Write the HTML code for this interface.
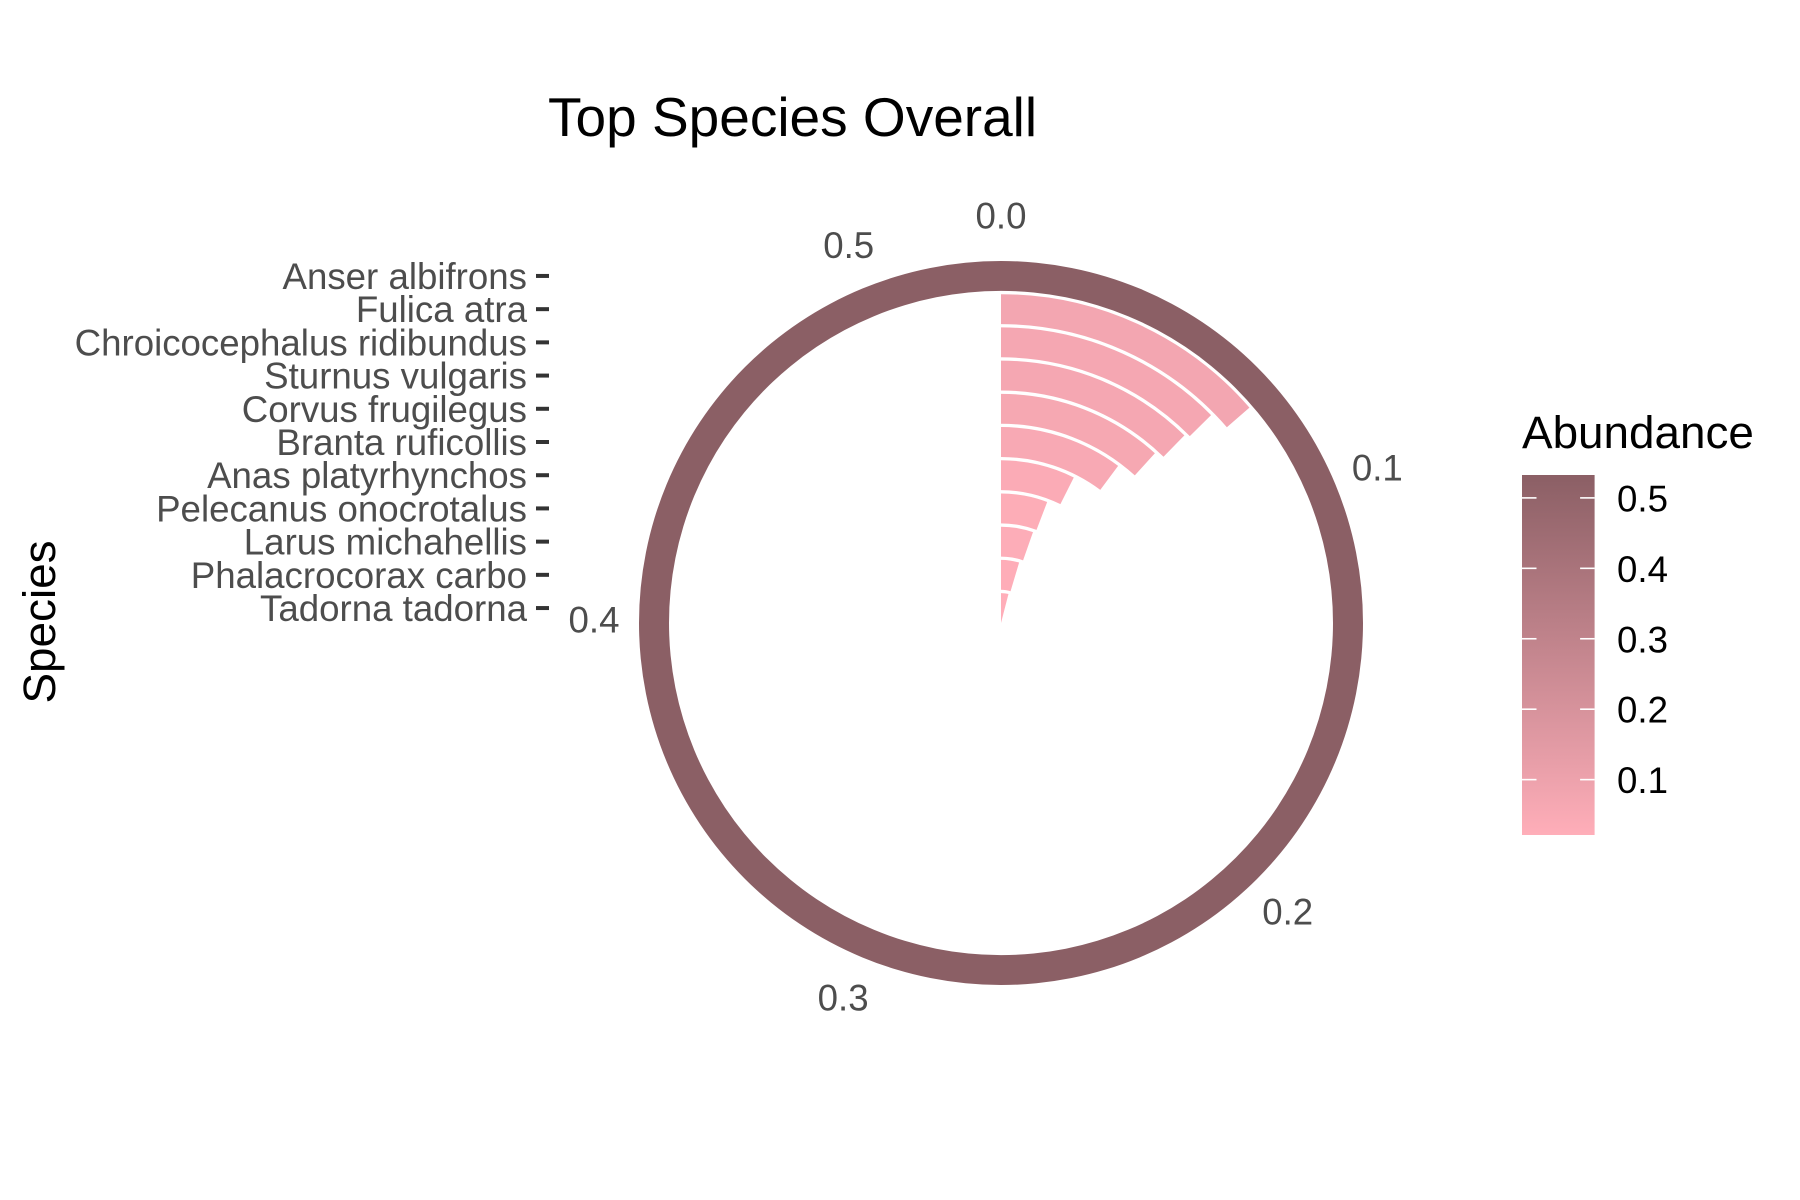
<!DOCTYPE html>
<html lang="en">
<head>
<meta charset="utf-8">
<title>Top Species Overall</title>
<style>
html,body{margin:0;padding:0;background:#fff;width:1800px;height:1200px;overflow:hidden}
svg{display:block}
text{font-family:"Liberation Sans",Arial,sans-serif}
</style>
</head>
<body>
<svg id="chart" xmlns="http://www.w3.org/2000/svg" width="1800" height="1200" viewBox="0 0 1800 1200">
  <rect width="1800" height="1200" fill="#ffffff"/>
  <text x="548" y="136" font-size="55" fill="#000000">Top Species Overall</text>
  <text transform="translate(55,622) rotate(-90)" text-anchor="middle" font-size="45.83" fill="#000000">Species</text>
  <text x="1522" y="448" font-size="45.83" fill="#000000">Abundance</text>
  <defs>
    <linearGradient id="legend-gradient" x1="0" y1="1" x2="0" y2="0">
      <stop id="legend-stop-low" offset="0"/>
      <stop id="legend-stop-high" offset="1"/>
    </linearGradient>
  </defs>
  <g id="y-axis"></g>
  <g id="theta-axis"></g>
  <g id="bars"></g>
  <g id="legend"></g>
</svg>
<script>
const species = ["Tadorna tadorna","Phalacrocorax carbo","Larus michahellis","Pelecanus onocrotalus","Anas platyrhynchos","Branta ruficollis","Corvus frugilegus","Sturnus vulgaris","Chroicocephalus ridibundus","Fulica atra","Anser albifrons"];
const abundance = [0.0214,0.0247,0.0287,0.0309,0.0393,0.0543,0.0624,0.0656,0.067,0.0726,0.5325];
const thetaTicks = [0.0,0.1,0.2,0.3,0.4,0.5];
const legendTicks = [0.1,0.2,0.3,0.4,0.5];

const NS = "http://www.w3.org/2000/svg";
const cx = 1001, cy = 623, outerR = 362, labelR = 407;
const maxV = Math.max.apply(null, abundance);
const minV = Math.min.apply(null, abundance);
const rUnit = outerR / (species.length - 0.1);
const lowC = [255,174,185], highC = [139,95,101];

function thetaScale(v){ return v / maxV * 2 * Math.PI; }
function rScale(pos){ return (pos - 0.55) * rUnit; }
function polar(r, a){ return [cx + r * Math.sin(a), cy - r * Math.cos(a)]; }
function colourScale(v){
  const t = (v - minV) / (maxV - minV);
  const c = lowC.map(function(l, i){ return Math.round(l + (highC[i] - l) * t); });
  return "rgb(" + c.join(",") + ")";
}
function sectorPath(r0, r1, a){
  const m = a / 2;
  const p0 = polar(r1, 0), p1 = polar(r1, m), p2 = polar(r1, a);
  const p3 = polar(r0, a), p4 = polar(r0, m), p5 = polar(r0, 0);
  return "M" + p0 + "A" + r1 + " " + r1 + " 0 0 1 " + p1 + "A" + r1 + " " + r1 + " 0 0 1 " + p2 +
         "L" + p3 + "A" + r0 + " " + r0 + " 0 0 0 " + p4 + "A" + r0 + " " + r0 + " 0 0 0 " + p5 + "Z";
}
function make(tag, attrs, parent, txt){
  const el = document.createElementNS(NS, tag);
  Object.keys(attrs).forEach(function(k){ el.setAttribute(k, attrs[k]); });
  if (txt !== undefined) el.textContent = txt;
  parent.appendChild(el);
  return el;
}

const barsG = document.getElementById("bars");
const yAxisG = document.getElementById("y-axis");
species.forEach(function(name, i){
  const pos = i + 1;
  const bar = make("path", {
    d: sectorPath(Math.max(rScale(pos - 0.45), 0), rScale(pos + 0.45), thetaScale(abundance[i])),
    fill: colourScale(abundance[i])
  }, barsG);
  
  

  const yy = cy - rScale(pos);
  const tick = make("line", {x1: 536, x2: 549, y1: yy, y2: yy, stroke: "#333333", "stroke-width": 4}, yAxisG);
  
  

  const lab = make("text", {x: 527, y: yy + 13, "text-anchor": "end", "font-size": 36.67, fill: "#4D4D4D"}, yAxisG, name);
  
  
});

const thetaG = document.getElementById("theta-axis");
thetaTicks.forEach(function(v){
  const p = polar(labelR, thetaScale(v));
  const lab = make("text", {x: p[0], y: p[1] + 12.5, "text-anchor": "middle", "font-size": 36.67, fill: "#4D4D4D"}, thetaG, v.toFixed(1));
  
  
});

const legendG = document.getElementById("legend");
const legX = 1522, legW = 72.6, legTop = 475, legBottom = 835;
function legendY(v){ return legBottom - (v - minV) / (maxV - minV) * (legBottom - legTop); }
document.getElementById("legend-stop-low").setAttribute("stop-color", colourScale(minV));
document.getElementById("legend-stop-high").setAttribute("stop-color", colourScale(maxV));
const legBar = make("rect", {x: legX, y: legTop, width: legW, height: legBottom - legTop, fill: "url(#legend-gradient)"}, legendG);


legendTicks.forEach(function(v){
  const yy = legendY(v);
  const t1 = make("line", {x1: legX, x2: legX + 14.5, y1: yy, y2: yy, stroke: "#ffffff", "stroke-width": 1.6}, legendG);
  
  
  const t2 = make("line", {x1: legX + legW - 14.5, x2: legX + legW, y1: yy, y2: yy, stroke: "#ffffff", "stroke-width": 1.6}, legendG);
  
  
  const lab = make("text", {x: 1617, y: yy + 13.5, "font-size": 36.67, fill: "#000000"}, legendG, v.toFixed(1));
  
  
});
</script>
</body>
</html>
